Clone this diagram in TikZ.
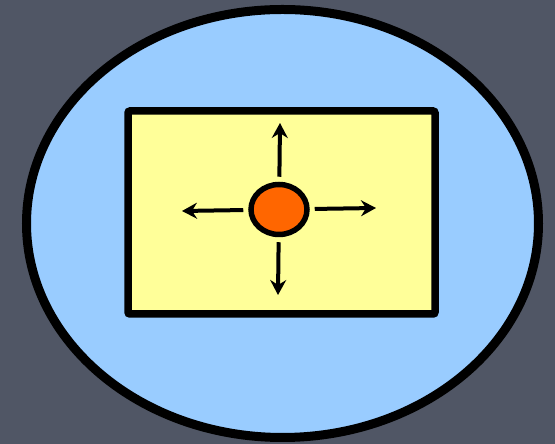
\documentclass[tikz,border=0pt]{standalone}
\usetikzlibrary{arrows.meta, shapes.geometric, calc}

\definecolor{slate}{RGB}{80,86,101}
\definecolor{skyblue}{RGB}{153,204,255}
\definecolor{paleyellow}{RGB}{255,255,153}
\definecolor{hotorange}{RGB}{255,102,0}

\begin{document}
\begin{tikzpicture}[
    x=1pt, y=1pt,
    >={Stealth[length=15pt, width=16pt, inset=5pt]},
    % outer region, box and particle
    world/.style={ellipse, draw=black, fill=skyblue, line width=9pt, minimum width=512pt, minimum height=428pt, inner sep=0pt},
    box/.style={rectangle, draw=black, fill=paleyellow, line width=7.5pt, rounded corners=2pt, minimum width=307pt, minimum height=203pt, inner sep=0pt},
    particle/.style={ellipse, draw=black, fill=hotorange, line width=5.5pt, minimum width=56pt, minimum height=50pt, inner sep=0pt},
    push/.style={->, line width=4pt, shorten <=5pt}
]

    % --- Background ---
    \fill[slate] (0,0) rectangle (555,444);
    \useasboundingbox (0,0) rectangle (555,444);

    % --- Shapes ---
    \node[world] (w) at (282.5,220.5) {};
    \node[box] (b) at (281.5,231.5) {};
    \node[particle] (p) at (279,234.5) {};

    % --- Arrow ends ---
    \coordinate (up) at ($(p) + (1,86.5)$);
    \coordinate (down) at ($(p) + (-1,-85.5)$);
    \coordinate (left) at ($(p) + (-97,-1.5)$);
    \coordinate (right) at ($(p) + (97,1.5)$);

    % --- Arrows out of the particle ---
    \draw[push] (p) -- (up);
    \draw[push] (p) -- (down);
    \draw[push] (p) -- (left);
    \draw[push] (p) -- (right);

\end{tikzpicture}
\end{document}
